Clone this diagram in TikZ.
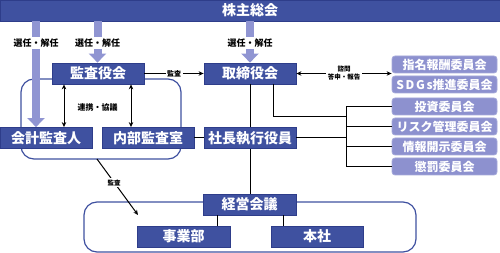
\documentclass[tikz,border=0pt]{standalone}
\usepackage{fontspec}
\setmainfont{Noto Sans CJK JP}
\usetikzlibrary{arrows.meta,calc}
\definecolor{navy}{HTML}{3F51A0}
\definecolor{navyb}{HTML}{2E3D8A}
\definecolor{lav}{HTML}{8D91CF}
\definecolor{lavb}{HTML}{A6A9DA}
\definecolor{arr}{HTML}{9095D2}
\begin{document}
\begin{tikzpicture}[x=1pt,y=-1pt,
 mainbox/.style={draw=navyb,fill=navy,text=white,font=\bfseries\fontsize{14}{14}\selectfont,minimum width=92pt,minimum height=21pt,inner sep=0pt,line width=0.8pt},
 cbox/.style={draw=lavb,fill=lav,text=white,font=\bfseries\fontsize{12}{12}\selectfont,minimum width=105pt,minimum height=17pt,inner sep=0pt,rounded corners=3pt,line width=0.8pt},
 grp/.style={draw=navy,line width=1.2pt,rounded corners=13pt,inner sep=0pt},
 bigarr/.style={draw=arr,line width=8pt,-{Triangle[width=17pt,length=9pt]}},
 conn/.style={draw=black,line width=1pt},
 onetip/.style={-{Stealth[length=5pt,width=4.5pt]}},
 twotip/.style={{Stealth[length=5pt,width=4.5pt]}-{Stealth[length=5pt,width=4.5pt]}},
 biglbl/.style={fill=white,font=\bfseries\fontsize{9}{9}\selectfont,inner sep=1.5pt},
 smlbl/.style={fill=white,font=\bfseries\fontsize{7}{8}\selectfont,inner sep=1.5pt,align=center},
]
\useasboundingbox (0,0) rectangle (500,253);

% group frames
\node[grp,minimum width=160pt,minimum height=80pt] (g1) at (101,119) {};
\node[grp,minimum width=332pt,minimum height=50pt] (g2) at (250,227) {};

% top bar
\node[mainbox,minimum width=500pt] (kabu) at (250,10.5) {株主総会};

% main boxes
\node[mainbox] (kansa) at (98,73.5) {監査役会};
\node[mainbox] (tori) at (250,73.5) {取締役会};
\node[mainbox] (kaikei) at (46,138) {会計監査人};
\node[mainbox] (naibu) at (148,138) {内部監査室};
\node[mainbox] (shacho) at (250,138) {社長執行役員};
\node[mainbox,minimum width=93pt] (keiei) at (249.5,204.5) {経営会議};
\node[mainbox,minimum width=93pt] (jigyo) at (183.5,236.5) {事業部};
\node[mainbox] (honsha) at (317,236.5) {本社};

% committees
\node[cbox] (c1) at (444.5,64.5) {指名報酬委員会};
\node[cbox] (c2) at (444.5,84.5) {{\addfontfeature{LetterSpace=14}SDGs}推進委員会};
\node[cbox] (c3) at (444.5,106.5) {投資委員会};
\node[cbox] (c4) at (444.5,126.5) {リスク管理委員会};
\node[cbox] (c5) at (444.5,146.5) {情報開示委員会};
\node[cbox] (c6) at (444.5,166.5) {懲罰委員会};

% big election arrows
\coordinate (x1) at (36,0);
\coordinate (x2) at (97.5,0);
\coordinate (x3) at (250,0);
\draw[bigarr] (kabu.south -| x1) -- (kaikei.north -| x1);
\draw[bigarr] (kabu.south -| x2) -- (kansa.north -| x2);
\draw[bigarr] (kabu.south -| x3) -- (tori.north -| x3);
\node[biglbl] (l1) at (36,43) {選任・解任};
\node[biglbl] (l2) at (97.5,43) {選任・解任};
\node[biglbl] (l3) at (250,43) {選任・解任};

% audit arrow
\draw[conn,onetip] (kansa.east) -- (tori.west) node[smlbl,midway] (lk) {監査};

% consult arrow
\draw[conn,twotip] (tori.east) -- (tori.east -| c1.west);
\node[smlbl,font=\bfseries\fontsize{6.5}{7.5}\selectfont] (lc) at (344,73) {諮問\\答申・報告};

% cooperation arrows
\coordinate (y1) at (64,0);
\coordinate (y2) at (131,0);
\draw[conn,twotip] (kansa.south -| y1) -- (kaikei.north -| y1);
\draw[conn,twotip] (kansa.south -| y2) -- (naibu.north -| y2);
\node[font=\bfseries\fontsize{8}{8}\selectfont,inner sep=1pt] (lr) at (97.5,107) {連携・協議};

% vertical trunk
\draw[conn] (tori.south) -- (shacho.north);
\draw[conn] (shacho.south) -- (keiei.north -| shacho.south);
\draw[conn] (naibu.east) -- (shacho.west);

% committee bus
\coordinate (bus) at (346,0);
\coordinate (tj) at (273,117);
\draw[conn] (tori.south -| tj) -- (tj) -- (tj -| bus);
\draw[conn] (c3.west) -- (c3.west -| bus) -- (c6.west -| bus) -- (c6.west);
\draw[conn] (c4.west) -- (c4.west -| bus);
\draw[conn] (c5.west) -- (c5.west -| bus);
\draw[conn] (shacho.east) -- (shacho.east -| bus);

% keiei to units
\coordinate (z1) at (217,0);
\coordinate (z2) at (283,0);
\draw[conn] (keiei.south -| z1) -- (jigyo.north -| z1);
\draw[conn] (keiei.south -| z2) -- (honsha.north -| z2);

% diagonal audit
\coordinate (d1) at (97,159);
\coordinate (d2) at (138,215);
\draw[conn,onetip] (d1) -- (d2) node[smlbl,pos=0.42,font=\bfseries\fontsize{6.5}{7}\selectfont] (ld) {監査};
\end{tikzpicture}
\end{document}
